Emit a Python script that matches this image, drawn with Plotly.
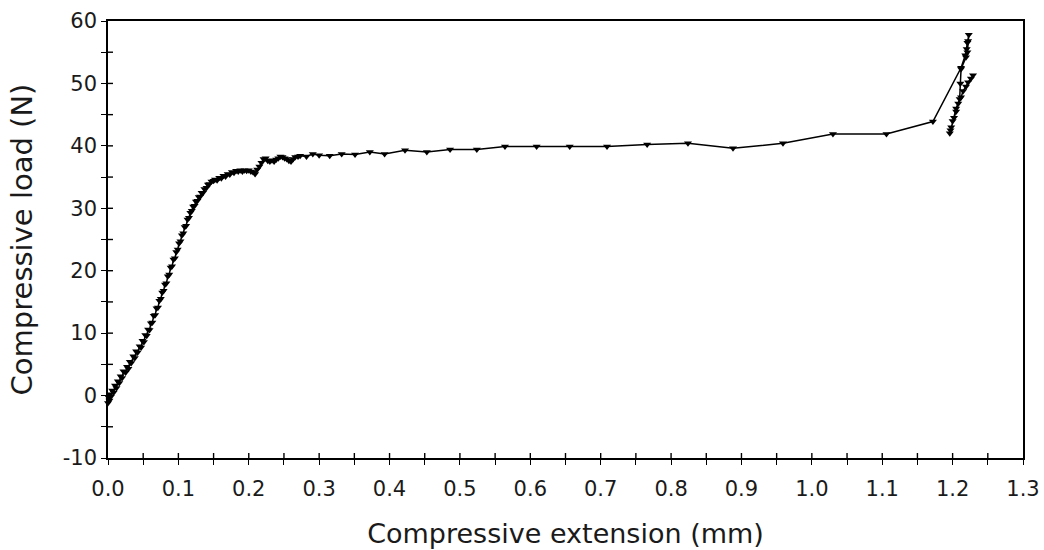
import plotly.graph_objects as go

# Compressive test record: extension (mm) vs load (N)
extension_mm = [
    0.000, 0.001, 0.002, 0.003, 0.004, 0.006, 0.008, 0.010, 0.012, 0.014,
    0.016, 0.018, 0.020, 0.022, 0.025, 0.027, 0.029, 0.031, 0.033, 0.036,
    0.038, 0.040, 0.042, 0.045, 0.047, 0.049, 0.051, 0.053, 0.055, 0.057,
    0.059, 0.061, 0.063, 0.065, 0.067, 0.069, 0.071, 0.073, 0.075, 0.077,
    0.079, 0.081, 0.083, 0.085, 0.087, 0.089, 0.091, 0.093, 0.095, 0.097,
    0.099, 0.101, 0.103, 0.105, 0.107, 0.109, 0.111, 0.113, 0.115, 0.117,
    0.119, 0.121, 0.123, 0.125, 0.127, 0.129, 0.131, 0.133, 0.135, 0.137,
    0.140, 0.142, 0.144, 0.147, 0.150, 0.152, 0.155, 0.158, 0.161, 0.164,
    0.167, 0.170, 0.173, 0.176, 0.179, 0.182, 0.185, 0.188, 0.191, 0.194,
    0.197, 0.200, 0.203, 0.206, 0.209, 0.212, 0.215, 0.218, 0.221, 0.224,
    0.227, 0.230, 0.233, 0.236, 0.239, 0.242, 0.245, 0.248, 0.251, 0.254,
    0.257, 0.260, 0.263, 0.266, 0.270, 0.273, 0.282, 0.291, 0.300, 0.315,
    0.332, 0.351, 0.372, 0.393, 0.422, 0.453, 0.486, 0.524, 0.564, 0.609,
    0.656, 0.709, 0.766, 0.824, 0.888, 0.959, 1.030, 1.106, 1.172,
    1.212, 1.218, 1.220, 1.221, 1.223, 1.222, 1.221, 1.219, 1.212,
    1.211, 1.210, 1.205, 1.200, 1.197, 1.196, 1.198, 1.202, 1.205, 1.208,
    1.212, 1.215, 1.219, 1.222, 1.226, 1.229,
]
load_n = [
    -1.2, -0.3, -0.8, 0.2, -0.2, 0.8, 0.5, 1.6, 1.2, 2.3,
    2.0, 3.1, 2.8, 3.9, 3.7, 4.6, 4.3, 5.4, 5.2, 6.3,
    6.0, 7.1, 6.9, 7.9, 7.7, 8.8, 8.6, 9.7, 9.6, 10.6,
    10.5, 11.6, 11.7, 12.8, 12.9, 14.0, 14.1, 15.2, 15.5, 16.5,
    16.8, 17.8, 18.0, 19.1, 19.4, 20.5, 20.7, 21.8, 22.0, 23.0,
    23.4, 24.4, 24.7, 25.7, 26.0, 27.0, 27.2, 28.2, 28.5, 29.3,
    29.6, 30.3, 30.4, 31.1, 31.2, 31.8, 31.9, 32.5, 32.5, 33.1,
    33.3, 33.8, 33.9, 34.3, 34.4, 34.6, 34.5, 34.9, 34.8, 35.2,
    35.1, 35.5, 35.4, 35.8, 35.7, 36.0, 35.9, 36.1, 35.9, 36.1,
    36.0, 36.1, 35.9, 35.8, 35.5, 36.2, 36.7, 37.3, 37.9, 38.0,
    37.6, 37.5, 37.7, 37.5, 37.8, 38.0, 38.3, 38.2, 38.0, 37.9,
    37.6, 37.5, 37.9, 38.2, 38.3, 38.4, 38.3, 38.7, 38.5, 38.4,
    38.7, 38.6, 39.0, 38.7, 39.3, 39.0, 39.4, 39.4, 39.9, 39.9,
    39.9, 39.9, 40.2, 40.4, 39.6, 40.4, 41.9, 41.9, 43.9,
    52.5, 54.5, 55.5, 56.5, 57.8, 56.8, 55.0, 54.2, 52.3,
    50.0, 47.5, 46.0, 44.0, 42.5, 42.0, 43.0, 44.5, 45.5, 46.8,
    47.8, 48.8, 49.5, 50.2, 50.8, 51.3,
]

x_ticks = [0.0, 0.1, 0.2, 0.3, 0.4, 0.5, 0.6, 0.7, 0.8, 0.9, 1.0, 1.1, 1.2, 1.3]
y_ticks = [-10, 0, 10, 20, 30, 40, 50, 60]

FONT = "DejaVu Sans"
TEXT = "#1a1a1a"
TICK_LEN = 5

X_RANGE = [x_ticks[0], x_ticks[-1]]
Y_RANGE = [y_ticks[0], y_ticks[-1]]

fig = go.Figure()
fig.add_trace(go.Scatter(
    x=extension_mm, y=load_n, mode="lines+markers",
    line=dict(color="black", width=1.5),
    marker=dict(symbol="triangle-down", size=7, color="black"),
    showlegend=False, hoverinfo="x+y", cliponaxis=False,
))

# Ticks cross the axis lines: the axes draw the outer half, a line trace
# draws the inner half at every major and minor position.
plot_w_px = 1044 - 108 - 21
plot_h_px = 550 - 21 - 92
dx_in = (X_RANGE[1] - X_RANGE[0]) * TICK_LEN / plot_w_px
dy_in = (Y_RANGE[1] - Y_RANGE[0]) * TICK_LEN / plot_h_px
x_all = sorted(set(x_ticks + [(a + b) / 2 for a, b in zip(x_ticks, x_ticks[1:])]))
y_all = sorted(set(y_ticks + [(a + b) / 2 for a, b in zip(y_ticks, y_ticks[1:])]))
tx, ty = [], []
for xv in x_all[1:-1]:
    tx += [xv, xv, None]
    ty += [Y_RANGE[0], Y_RANGE[0] + dy_in, None]
for yv in y_all[1:-1]:
    tx += [X_RANGE[0], X_RANGE[0] + dx_in, None]
    ty += [yv, yv, None]
fig.add_trace(go.Scatter(
    x=tx, y=ty, mode="lines", line=dict(color="black", width=1.4),
    showlegend=False, hoverinfo="skip", connectgaps=False,
))

tick_style = dict(tickcolor="black", tickwidth=1.4)

fig.update_layout(
    width=1044, height=550,
    margin=dict(l=108, r=21, t=21, b=92, autoexpand=False),
    paper_bgcolor="white", plot_bgcolor="white",
    font=dict(family=FONT, color=TEXT, size=22),
    xaxis=dict(
        range=X_RANGE, tickvals=x_ticks,
        ticktext=[f"{v:.1f}" for v in x_ticks],
        ticks="outside", ticklen=TICK_LEN, ticklabelstandoff=6,
        minor=dict(dtick=0.05, tick0=0, ticks="outside", ticklen=TICK_LEN, **tick_style),
        mirror=True, showgrid=False, zeroline=False, automargin=False,
        linecolor="black", linewidth=1.6, **tick_style,
        title=dict(text="Compressive extension (mm)", font=dict(size=27), standoff=24),
        tickfont=dict(size=21),
    ),
    yaxis=dict(
        range=Y_RANGE, tickvals=y_ticks,
        ticktext=[str(v) for v in y_ticks],
        ticks="outside", ticklen=TICK_LEN,
        minor=dict(dtick=5, tick0=0, ticks="outside", ticklen=TICK_LEN, **tick_style),
        mirror=True, showgrid=False, zeroline=False, automargin=False,
        linecolor="black", linewidth=1.6, **tick_style,
        title=dict(text="Compressive load (N)", font=dict(size=29), standoff=22),
        tickfont=dict(size=21),
    ),
)

fig.write_html("out.html")
